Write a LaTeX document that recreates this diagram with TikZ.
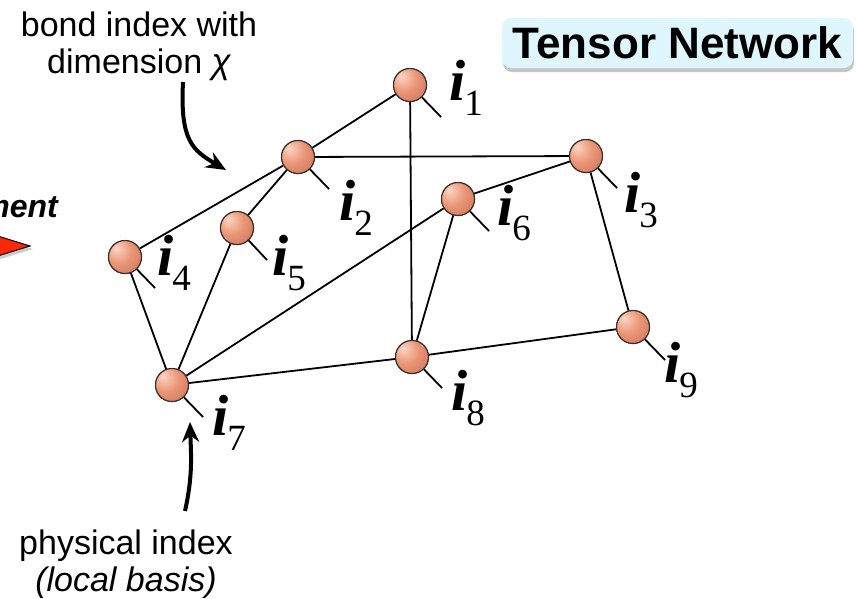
\documentclass[tikz,border=0pt]{standalone}
\usepackage{fontspec}
\setmainfont{Liberation Serif}
\newfontfamily\sansf{Liberation Sans}
\usetikzlibrary{arrows.meta,shadows}
\definecolor{peachhi}{RGB}{252,214,196}
\definecolor{peach}{RGB}{234,150,118}
\definecolor{peachdk}{RGB}{196,104,80}
\definecolor{ballline}{RGB}{55,45,45}
\definecolor{titlefill}{RGB}{222,246,252}
\definecolor{arrowred}{RGB}{250,40,10}
\pgfdeclareradialshading{peachball}{\pgfpoint{-14bp}{14bp}}{color(0bp)=(peachhi); color(20bp)=(peach); color(48bp)=(peachdk); color(70bp)=(peachdk)}
\newcommand{\idxlabel}[1]{{\fontsize{58}{58}\selectfont\bfseries\itshape i}\kern-1pt\raisebox{-15pt}{\fontsize{37}{37}\selectfont #1}}
\tikzset{
  tensor/.style={circle, minimum size=33pt, inner sep=0pt, shading=peachball, draw=ballline, line width=1.1pt},
  bond/.style={line width=1.8pt, black},
  leg/.style={line width=1.8pt, black},
  idx/.style={anchor=base west, inner sep=0pt},
  callout/.style={line width=4pt, black, -{Stealth[length=20pt,width=17pt]}},
  sanstext/.style={font=\sansf\fontsize{34}{37}\selectfont, align=center, inner sep=0pt}
}
\begin{document}
\begin{tikzpicture}[x=1pt,y=-1pt]
\useasboundingbox (0,0) rectangle (856,598);
\clip (0,0) rectangle (856,598);
% title
\node[draw=none, fill=titlefill, rounded corners=9pt, minimum width=351pt, minimum height=50pt,
      drop shadow={shadow xshift=1pt, shadow yshift=-4pt, opacity=0.45}] (title) at (677.5,43)
      {\sansf\bfseries\fontsize{44}{44}\selectfont Tensor Network};
% cut-off left text and arrow
\node[anchor=base east, inner sep=0pt, font=\sansf\bfseries\itshape\fontsize{32}{32}\selectfont] (ment) at (58,217) {ment};
\path[fill=arrowred, draw=black, line width=1pt, drop shadow={shadow xshift=3pt, shadow yshift=-3pt, opacity=0.4}]
   (-12,233) -- (30,246) -- (-12,259) -- cycle;
% tensors
\node[tensor] (n1) at (410,85) {};
\node[tensor] (n2) at (298,157) {};
\node[tensor] (n3) at (586,156) {};
\node[tensor] (n4) at (125,257) {};
\node[tensor] (n5) at (237,228) {};
\node[tensor] (n6) at (458,199) {};
\node[tensor] (n7) at (172,385) {};
\node[tensor] (n8) at (412,357) {};
\node[tensor] (n9) at (633,327) {};
% leg ends
\coordinate (l1) at (441,117);
\coordinate (l2) at (329,189);
\coordinate (l3) at (617,188);
\coordinate (l4) at (155,288);
\coordinate (l5) at (267,260);
\coordinate (l6) at (489,231);
\coordinate (l7) at (203,417);
\coordinate (l8) at (442,388);
\coordinate (l9) at (665,360);
% bonds
\draw[bond] (n1) -- (n2);
\draw[bond] (n1) -- (n8);
\draw[bond] (n2) -- (n3);
\draw[bond] (n2) -- (n4);
\draw[bond] (n2) -- (n5);
\draw[bond] (n3) -- (n6);
\draw[bond] (n3) -- (n9);
\draw[bond] (n4) -- (n7);
\draw[bond] (n5) -- (n7);
\draw[bond] (n6) -- (n7);
\draw[bond] (n6) -- (n8);
\draw[bond] (n7) -- (n8);
\draw[bond] (n8) -- (n9);
\foreach \k in {1,...,9} { \draw[leg] (n\k) -- (l\k); }
% redraw tensors on top
\foreach \k/\x/\y in {1/410/85,2/298/157,3/586/156,4/125/257,5/237/228,6/458/199,7/172/385,8/412/357,9/633/327}
  { \node[tensor] at (\x,\y) {}; }
% index labels
\node[idx] (t1) at (449,100) {\idxlabel{1}};
\node[idx] (t2) at (339,220) {\idxlabel{2}};
\node[idx] (t3) at (624,212) {\idxlabel{3}};
\node[idx] (t4) at (157,275) {\idxlabel{4}};
\node[idx] (t5) at (272,275) {\idxlabel{5}};
\node[idx] (t6) at (497,225) {\idxlabel{6}};
\node[idx] (t7) at (212,435) {\idxlabel{7}};
\node[idx] (t8) at (451,410) {\idxlabel{8}};
\node[idx] (t9) at (664,382) {\idxlabel{9}};
% annotations
\node[sanstext, anchor=north] (bondtxt) at (139,12) {bond index with\\dimension {\fontsize{35}{35}\selectfont\itshape χ}};
\node[sanstext, anchor=north] (phystxt) at (126,530) {physical index\\{\itshape (local basis)}};
\coordinate (b0) at (183,82);
\coordinate (b1) at (226,170);
\draw[callout] (b0) .. controls (180,140) and (192,150) .. (b1);
\coordinate (p0) at (185,511);
\coordinate (p1) at (190,422);
\draw[callout] (p0) .. controls (193,475) and (191,455) .. (p1);
\end{tikzpicture}
\end{document}
